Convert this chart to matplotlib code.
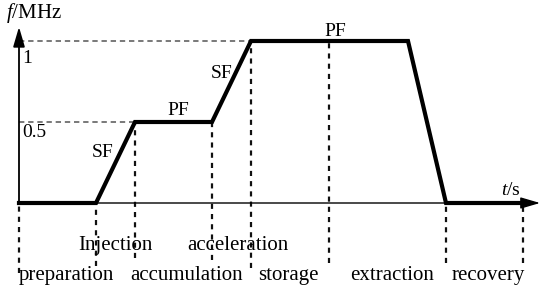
import matplotlib
matplotlib.use("Agg")
import matplotlib.pyplot as plt

plt.rcParams["font.family"] = ["Liberation Serif", "DejaVu Serif"]
plt.rcParams["mathtext.fontset"] = "custom"
plt.rcParams["mathtext.rm"] = "Liberation Serif"
plt.rcParams["mathtext.it"] = "Liberation Serif:italic"

# frequency program (time in arbitrary units, frequency in MHz)
t_knots = [0, 77, 116, 193, 232, 389, 427, 504]
f_knots = [0, 0, 0.5, 0.5, 1, 1, 0, 0]

# dashed guide lines: time, top (MHz), bottom (below axis)
guide_t = [0, 77, 116, 193, 232, 310, 427, 504]
guide_top = [0, 0, 0.5, 0.5, 1, 1, 0, 0]
guide_bottom = [-0.43, -0.39, -0.34, -0.35, -0.40, -0.37, -0.37, -0.37]

level_vals = [1, 0.5]
level_ends = [232, 116]
level_labels = ["1", "0.5"]
level_label_drop = [0.136, 0.095]

segment_labels = ["SF", "PF", "SF", "PF"]
segment_pos = [(84, 0.31), (159, 0.57), (203, 0.80), (316, 1.06)]

upper_phases = ["Injection", "acceleration"]
upper_x = [96.5, 219]
lower_phases = ["preparation", "accumulation", "storage", "extraction", "recovery"]
lower_x = [47, 168, 269, 373, 469]

fig = plt.figure(figsize=(5.41, 2.87), dpi=100)
ax = fig.add_axes([0, 0, 1, 1])
ax.set_xlim(-19, 522)
ax.set_ylim(-84 / 162, 203 / 162)
ax.axis("off")

# guide lines
for v, te in zip(level_vals, level_ends):
    ax.plot([0, te], [v, v], color="#555555", lw=1.1, ls=(0, (3.5, 2.5)), zorder=1)
for t, top, bot in zip(guide_t, guide_top, guide_bottom):
    ax.plot([t, t], [bot, top], color="#111111", lw=1.6, ls=(0, (2.3, 2.3)), zorder=1)

# axes with arrows
arrow = "-|>,head_length=0.75,head_width=0.22"
ax.annotate("", xy=(521, 0), xytext=(0, 0),
            arrowprops=dict(arrowstyle=arrow, color="k", lw=1.0, mutation_scale=16,
                            shrinkA=0, shrinkB=0), zorder=2)
ax.annotate("", xy=(0, 1.087), xytext=(0, 0),
            arrowprops=dict(arrowstyle=arrow, color="k", lw=1.3, mutation_scale=16,
                            shrinkA=0, shrinkB=0), zorder=2)

# frequency program
ax.plot(t_knots, f_knots, color="k", lw=3.0, solid_joinstyle="miter", zorder=3)

# labels
ax.text(-13, 1.14, "$f$/MHz", fontsize=15, ha="left", va="baseline")
ax.text(482, 0.05, "$t$/s", fontsize=14, ha="left", va="baseline")
for v, lab, dy in zip(level_vals, level_labels, level_label_drop):
    ax.text(3, v - dy, lab, fontsize=14, ha="left", va="baseline")
for lab, (t, f) in zip(segment_labels, segment_pos):
    ax.text(t, f, lab, fontsize=14, ha="center", va="center")
for lab, t in zip(upper_phases, upper_x):
    ax.text(t, -47 / 162, lab, fontsize=15, ha="center", va="baseline")
for lab, t in zip(lower_phases, lower_x):
    ax.text(t, -77 / 162, lab, fontsize=15, ha="center", va="baseline")

fig.savefig("out.png", dpi=100)
